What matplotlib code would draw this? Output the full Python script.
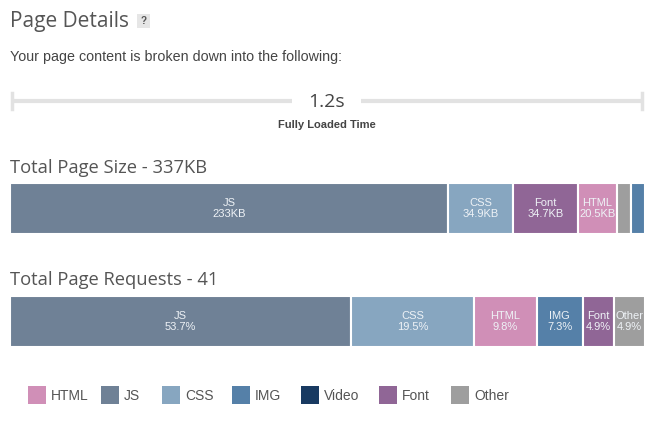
import matplotlib
matplotlib.use("Agg")
import matplotlib.pyplot as plt
import numpy as np

# ---- data ----
size_labels = ["JS", "CSS", "Font", "HTML", "Other", "IMG"]
size_values = [233, 34.9, 34.7, 20.5, 7.5, 7.5]
size_text = ["233KB", "34.9KB", "34.7KB", "20.5KB", "", ""]
total_size_label = "337KB"

req_labels = ["JS", "CSS", "HTML", "IMG", "Font", "Other"]
req_values = [53.7, 19.5, 9.8, 7.3, 4.9, 4.9]
req_text = ["53.7%", "19.5%", "9.8%", "7.3%", "4.9%", "4.9%"]
total_requests = 41

legend_labels = ["HTML", "JS", "CSS", "IMG", "Video", "Font", "Other"]
colors = {"HTML": "#d08fb7", "JS": "#6f8196", "CSS": "#87a6c0", "IMG": "#5580a8",
          "Video": "#183a61", "Font": "#906696", "Other": "#9e9e9e"}
loaded_time = "1.2s"

W, H = 660, 426
fig = plt.figure(figsize=(W / 100, H / 100), dpi=100)
bg = fig.add_axes([0, 0, 1, 1])
bg.set_xlim(0, W)
bg.set_ylim(H, 0)
bg.axis("off")

body = ["Liberation Sans", "DejaVu Sans"]
head = ["Open Sans", "DejaVu Sans"]
txt = "#444444"

bg.text(10, 22, "Page Details", fontsize=15, family=head, color="#555555", va="center", ha="left")
bg.add_patch(plt.Rectangle((137, 14), 13, 14, color="#e6e6e6", lw=0))
bg.text(143.5, 21, "?", fontsize=7, family=body, color="#555555", ha="center", va="center", weight="bold")
bg.text(10, 57, "Your page content is broken down into the following:", fontsize=10.3,
        family=body, color=txt, va="center")

# timeline
lc = "#e2e2e2"
bg.plot([11, 292], [101, 101], color=lc, lw=3, solid_capstyle="butt")
bg.plot([361, 643], [101, 101], color=lc, lw=3, solid_capstyle="butt")
bg.plot([12, 12], [93, 109], color=lc, lw=2.5)
bg.plot([642, 642], [93, 109], color=lc, lw=2.5)
bg.text(327, 102, loaded_time, fontsize=14, family=head, color="#444444", ha="center", va="center")
bg.text(327, 125, "Fully Loaded Time", fontsize=8, family=body, color="#444444",
        ha="center", va="center", weight="bold")

bg.text(10, 168, f"Total Page Size - {total_size_label}", fontsize=13.2, family=head,
        color="#555555", va="center")
bg.text(10, 280, f"Total Page Requests - {total_requests}", fontsize=13.2, family=head,
        color="#555555", va="center")


def stacked(y0, y1, labels, values, texts):
    ax = fig.add_axes([10 / W, 1 - y1 / H, 635 / W, (y1 - y0) / H])
    total = sum(values)
    lefts = np.concatenate([[0], np.cumsum(values)[:-1]])
    for lab, v, l, t in zip(labels, values, lefts, texts):
        ax.barh(0, v, left=l, height=1, color=colors[lab], edgecolor="white", lw=1.5)
        if t:
            ax.text(l + v / 2, 0, f"{lab}\n{t}", ha="center", va="center", fontsize=8,
                    family=body, color="#eef2f6", linespacing=1.15)
    ax.set_xlim(0, total)
    ax.set_ylim(-0.5, 0.5)
    ax.axis("off")


stacked(183, 234, size_labels, size_values, size_text)
stacked(296, 347, req_labels, req_values, req_text)

# legend
lx = [28, 101, 162, 232, 301, 379, 451]
for x, lab in zip(lx, legend_labels):
    bg.add_patch(plt.Rectangle((x, 386), 18, 18, color=colors[lab], lw=0))
    bg.text(x + 23, 395.5, lab, fontsize=10, family=body, color="#555555", va="center")

fig.savefig("out.png", dpi=100, facecolor="white")
